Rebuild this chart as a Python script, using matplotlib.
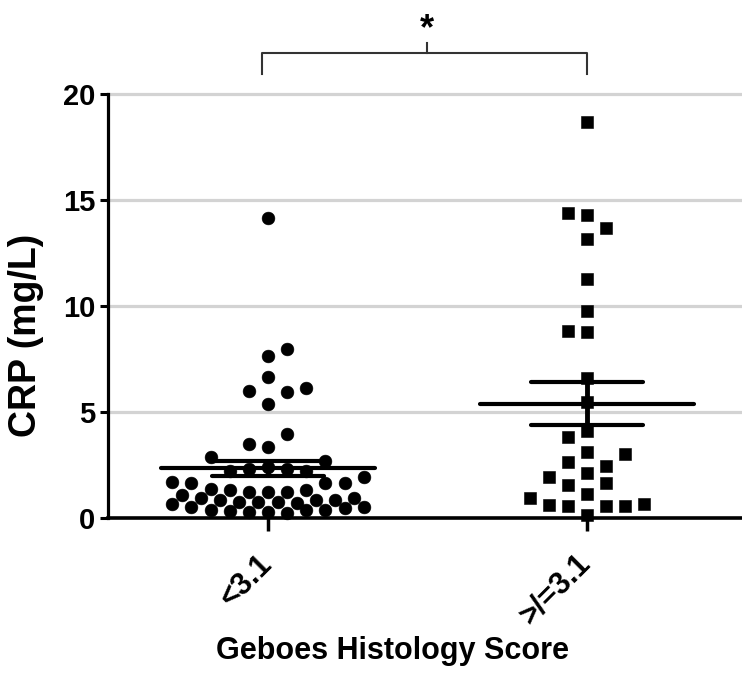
import matplotlib
matplotlib.use("Agg")
import matplotlib.pyplot as plt
import numpy as np
from matplotlib.transforms import ScaledTranslation

plt.rcParams['font.family'] = ['Liberation Sans', 'DejaVu Sans']
plt.rcParams['font.weight'] = 'bold'
plt.rcParams['axes.labelweight'] = 'bold'

# ---- data ----
categories = ["<3.1", ">/=3.1"]

lt31_values = [14.15, 7.97, 7.64, 6.65, 6.00, 5.94, 6.13, 5.38,
               3.96, 3.49, 3.35, 2.88, 2.69,
               2.20, 2.30, 2.40, 2.30, 2.20,
               1.70, 1.65, 1.37, 1.32, 1.23, 1.08, 0.94, 0.85, 0.75, 0.75,
               0.66, 0.52, 0.38, 0.33, 0.28,
               1.93, 1.65, 1.65, 1.23, 1.23, 1.32, 0.75, 0.71, 0.85, 0.85,
               0.94, 0.28, 0.24, 0.38, 0.38, 0.47, 0.52]
lt31_cols = [0, 1, 0, 0, -1, 1, 2, 0,
             1, -1, 0, -3, 3,
             -2, -1, 0, 1, 2,
             -5, -4, -3, -2, -1, -4.5, -3.5, -2.5, -1.5, -0.5,
             -5, -4, -3, -2, -1,
             5, 3, 4, 0, 1, 2, 0.5, 1.5, 2.5, 3.5,
             4.5, 0, 1, 2, 3, 4, 5]

ge31_values = [18.68, 14.39, 14.29, 13.68, 13.16, 11.27, 9.76, 8.82, 8.77,
               6.60, 5.47, 4.10, 3.83, 3.12, 3.02, 2.65, 2.45, 2.12, 1.95,
               1.56, 1.65, 1.13, 0.94, 0.61, 0.57, 0.57, 0.57, 0.66, 0.14]
ge31_cols = [0, -1, 0, 1, 0, 0, 0, -1, 0,
             0, 0, 0, -1, 0, 2, -1, 1, 0, -2,
             -1, 1, 0, -3, -2, -1, 1, 2, 3, 0]

y_ticks = [0, 5, 10, 15, 20]
y_label = "CRP (mg/L)"
x_label = "Geboes Histology Score"
sig_label = "*"

# ---- figure ----
fig = plt.figure(figsize=(7.42, 6.81), dpi=100)
ax = fig.add_axes([108/742, 1-518/681, (742-108)/742, (518-94)/681])

step = 0.06
groups = [(lt31_values, lt31_cols, 'o'), (ge31_values, ge31_cols, 's')]
for i, (vals, cols, mk) in enumerate(groups):
    vals = np.asarray(vals)
    x = i + step*np.asarray(cols, dtype=float)
    ax.plot(x, vals, ls='none', marker=mk, ms=9.2, mew=0.4, color='black',
            mec='black', zorder=3, clip_on=False)
    m = vals.mean()
    sem = vals.std(ddof=1)/np.sqrt(len(vals))
    ax.hlines(m, i-0.335, i+0.335, lw=3, color='black', zorder=4,
              capstyle='round')
    ax.hlines([m-sem, m+sem], i-0.175, i+0.175, lw=3, color='black', zorder=4,
              capstyle='round')
    ax.vlines(i, m-sem, m+sem, lw=3.5, color='black', zorder=4)

ax.set_xlim(-0.5016, 1.486)
ax.set_ylim(0, 20)
ax.set_yticks(y_ticks)
ax.set_xticks([0, 1])
ax.set_xticklabels(categories, rotation=45, ha='right', va='top')
ax.tick_params(axis='y', length=6, width=2.2, pad=3, labelsize=21)
ax.tick_params(axis='x', length=9, width=2.5, pad=13, labelsize=22)
for lab in ax.get_xticklabels():
    lab.set_transform(lab.get_transform() + ScaledTranslation(10/100, 0, fig.dpi_scale_trans))

for s in ['top', 'right']:
    ax.spines[s].set_visible(False)
ax.spines['left'].set_linewidth(2.3)
ax.spines['bottom'].set_linewidth(2.6)

for yv in y_ticks[1:]:
    ax.axhline(yv, color='#d3d3d3', lw=2.3, zorder=0, clip_on=False)

ax.set_ylabel(y_label, fontsize=27, fontweight='bold', va='center')
ax.yaxis.set_label_coords(-0.13, 0.43)
ax.set_xlabel(x_label, fontsize=22, fontweight='bold', va='center')
ax.xaxis.set_label_coords(0.448, -0.314)

# significance bracket
ax.plot([-0.02, -0.02, 1.0, 1.0], [20.94, 21.93, 21.93, 20.94], color='#333333',
        lw=1.5, clip_on=False)
ax.plot([0.498, 0.498], [21.93, 22.4], color='#333333', lw=1.5, clip_on=False)
ax.text(0.498, 22.6, sig_label, ha='center', va='baseline', fontsize=26)

fig.savefig("out.png", dpi=100)
